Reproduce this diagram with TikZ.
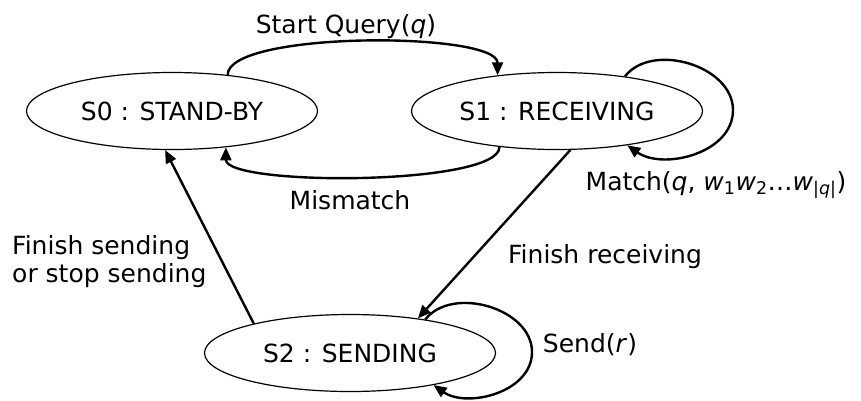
\documentclass[tikz,border=0pt]{standalone}
\usepackage{fontspec}
\setmainfont{DejaVu Sans}
\usetikzlibrary{arrows.meta,shapes.geometric}

\begin{document}
\begin{tikzpicture}[x=1pt,y=1pt]
\tikzstyle{every node}+=[inner sep=0pt,font=\fontsize{25}{28}\selectfont]
\tikzstyle{stnode}=[draw,ellipse,line width=1.2pt,minimum width=291pt,minimum height=77pt]
\tikzstyle{trans}=[line width=2.4pt,-{Triangle[length=13pt,width=11pt]}]
\useasboundingbox (0,0) rectangle (861,-400);
% states
\node [stnode] (s0) at (172,-111) {S0 : STAND-BY};
\node [stnode] (s1) at (557,-111) {S1 : RECEIVING};
\node [stnode] (s2) at (350,-353) {S2 : SENDING};
% outer points of the two loops
\coordinate (m1) at (733,-110);
\coordinate (m2) at (532,-352);
% transitions
\draw [trans] (s0.33) .. controls +(0,44) and +(0,44) .. (s1.149);
\draw [trans] (s1.212) .. controls +(0,-39) and +(0,-39) .. (s0.326);
\draw [trans] (s1.27) to [out=52,in=90] (m1) to [out=-90,in=-35] (s1.334);
\draw [trans] (s1.289) -- (s2.27);
\draw [trans] (s2.163) -- (s0.260);
\draw [trans] (s2.24) to [out=52,in=90] (m2) to [out=-90,in=-35] (s2.339);
% labels
\node [anchor=base] (lquery) at (346,-33) {Start Query(\textit{q})};
\node [anchor=base] (lmis) at (350,-209) {Mismatch};
\node [anchor=base] (lmatch) at (716,-190) {Match(\textit{q}, \textit{w}\textsubscript{1}\textit{w}\textsubscript{2}\ldots\textit{w}\textsubscript{|\textit{q}|})};
\node [anchor=base] (lrecv) at (605,-263) {Finish receiving};
\node [anchor=west,align=left] (lsend) at (12,-262) {Finish sending\\or stop sending};
\node [anchor=base] (lsendr) at (590,-352) {Send(\textit{r})};
\end{tikzpicture}
\end{document}
